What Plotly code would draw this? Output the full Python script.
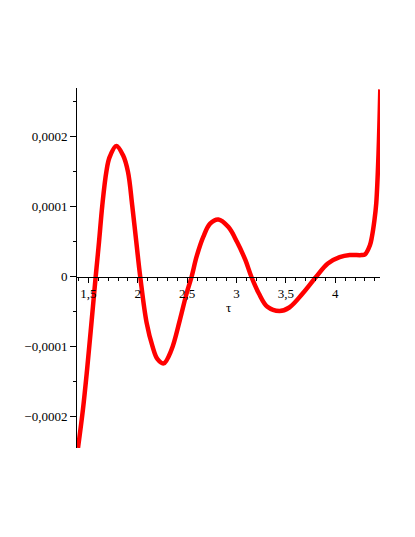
import plotly.graph_objects as go

# 곡선 위 점들
tau = [1.395, 1.445, 1.487, 1.53, 1.574, 1.608, 1.641, 1.682, 1.715, 1.783, 1.85, 1.901,
       1.944, 1.985, 2.025, 2.09, 2.15, 2.20, 2.262, 2.34, 2.426, 2.494,
       2.545, 2.596, 2.663, 2.732, 2.816, 2.918, 3.004, 3.089, 3.15, 3.226,
       3.312, 3.435, 3.534, 3.669, 3.806, 3.924, 4.044, 4.146, 4.265, 4.30,
       4.35, 4.37, 4.395, 4.414, 4.437, 4.455]
value = [-0.000245, -0.000190, -0.000133, -0.000068, 0.0, 0.000050, 0.000102, 0.000150, 0.000171, 0.000187, 0.000174, 0.000150,
         0.000102, 0.000050, 0.0, -0.000066, -0.000100, -0.000118, -0.000124, -0.000105, -0.000062, -0.000024,
         0.0, 0.000029, 0.000057, 0.000076, 0.000082, 0.000071, 0.000050, 0.000024, 0.0, -0.000024,
         -0.000043, -0.000049, -0.000044, -0.000024, 0.0, 0.000019, 0.000028, 0.000031, 0.000031, 0.000032,
         0.000045, 0.000057, 0.000080, 0.000105, 0.000176, 0.000268]

x_tick_vals = [1.5, 2, 2.5, 3, 3.5, 4]
x_tick_text = ["1,5", "2", "2,5", "3", "3,5", "4"]
y_tick_vals = [-0.0002, -0.0001, 0, 0.0001, 0.0002]
y_tick_text = ["\u22120,0002", "\u22120,0001", "0", "0,0001", "0,0002"]

x_range = [1.385, 4.452]
y_range = [-0.000245, 0.00027]

font = dict(family="Liberation Serif", size=13, color="black")

fig = go.Figure()
fig.add_trace(go.Scatter(x=tau, y=value, mode="lines",
                         line=dict(color="#ff0000", width=4.5, shape="spline", smoothing=1.0),
                         hoverinfo="skip", showlegend=False))

# x축은 y=0 위치에 그림 (Maple 스타일)
zero_pos = (0 - y_range[0]) / (y_range[1] - y_range[0])

fig.update_xaxes(range=x_range, anchor="free", position=zero_pos, automargin=False,
                 showline=True, linecolor="black", linewidth=1,
                 showgrid=False, zeroline=False,
                 tickmode="array", tickvals=x_tick_vals, ticktext=x_tick_text,
                 ticks="outside", ticklen=5, tickcolor="black", tickfont=font,
                 minor=dict(tickmode="linear", tick0=0, dtick=0.1,
                            ticks="outside", ticklen=3, tickcolor="black"),
                 title=dict(text="τ", font=font, standoff=2))
fig.update_yaxes(range=y_range, automargin=False,
                 showline=True, linecolor="black", linewidth=1,
                 showgrid=False, zeroline=False,
                 tickmode="array", tickvals=y_tick_vals, ticktext=y_tick_text,
                 ticks="outside", ticklen=6, tickcolor="black", tickfont=font,
                 minor=dict(tickmode="linear", tick0=0, dtick=0.00005,
                            ticks="outside", ticklen=3, tickcolor="black"))

# 페이지 body 여백(8px)을 감안한 여백
fig.update_layout(width=415, height=537, autosize=False,
                  margin=dict(l=69, r=43, t=80, b=97),
                  plot_bgcolor="white", paper_bgcolor="white",
                  font=font)

fig.write_html("out.html")
